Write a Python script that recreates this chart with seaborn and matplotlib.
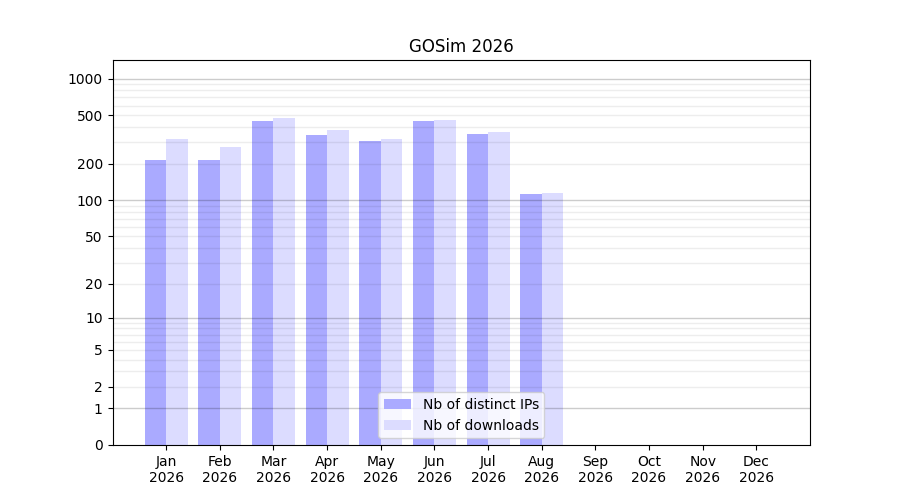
import matplotlib
matplotlib.use('Agg')
import matplotlib.pyplot as plt
import numpy as np
import pandas as pd
import seaborn as sns
from matplotlib.ticker import FixedLocator, NullFormatter

# monthly stats
months = ['Jan\n2026', 'Feb\n2026', 'Mar\n2026', 'Apr\n2026', 'May\n2026', 'Jun\n2026',
          'Jul\n2026', 'Aug\n2026', 'Sep\n2026', 'Oct\n2026', 'Nov\n2026', 'Dec\n2026']
distinct_ips = [214, 214, 448, 344, 307, 448, 351, 112, 0, 0, 0, 0]
downloads = [319, 274, 474, 378, 319, 456, 364, 115, 0, 0, 0, 0]
series_names = ['Nb of distinct IPs', 'Nb of downloads']

df = pd.DataFrame({
    'month': months * 2,
    'value': distinct_ips + downloads,
    'series': [series_names[0]] * len(months) + [series_names[1]] * len(months),
})

fig, ax = plt.subplots(figsize=(9, 5), dpi=100)

# log(1+x) scale so that zero can be shown
ax.set_yscale('function', functions=(lambda x: np.log10(1 + np.clip(x, 0, None)),
                                     lambda y: 10 ** y - 1))

sns.barplot(data=df, x='month', y='value', hue='series', order=months,
            hue_order=series_names, palette=['#aaaaff', '#dcdcff'],
            width=0.8, saturation=1, ax=ax, zorder=2)

ax.set_ylim(0, 1420)
ax.set_xlim(-1, 12)

major = [0, 1, 2, 5, 10, 20, 50, 100, 200, 500, 1000]
ax.yaxis.set_major_locator(FixedLocator(major))
ax.set_yticklabels([str(v) for v in major])
minor = [m * 10 ** k for k in range(3) for m in range(2, 10)]
ax.yaxis.set_minor_locator(FixedLocator(minor))
ax.yaxis.set_minor_formatter(NullFormatter())
ax.tick_params(axis='y', which='minor', length=0)

# light grid at every sub-decade, darker at decades
ax.grid(False)
for v in minor:
    ax.axhline(v, color='black', alpha=0.07, lw=1, zorder=3)
for v in [1, 10, 100, 1000]:
    ax.axhline(v, color='black', alpha=0.2, lw=1, zorder=3)

ax.set_xlabel('')
ax.set_ylabel('')
ax.set_title('GOSim 2026')
ax.legend(loc='lower center', title=None)

fig.savefig('out.png', dpi=100)
